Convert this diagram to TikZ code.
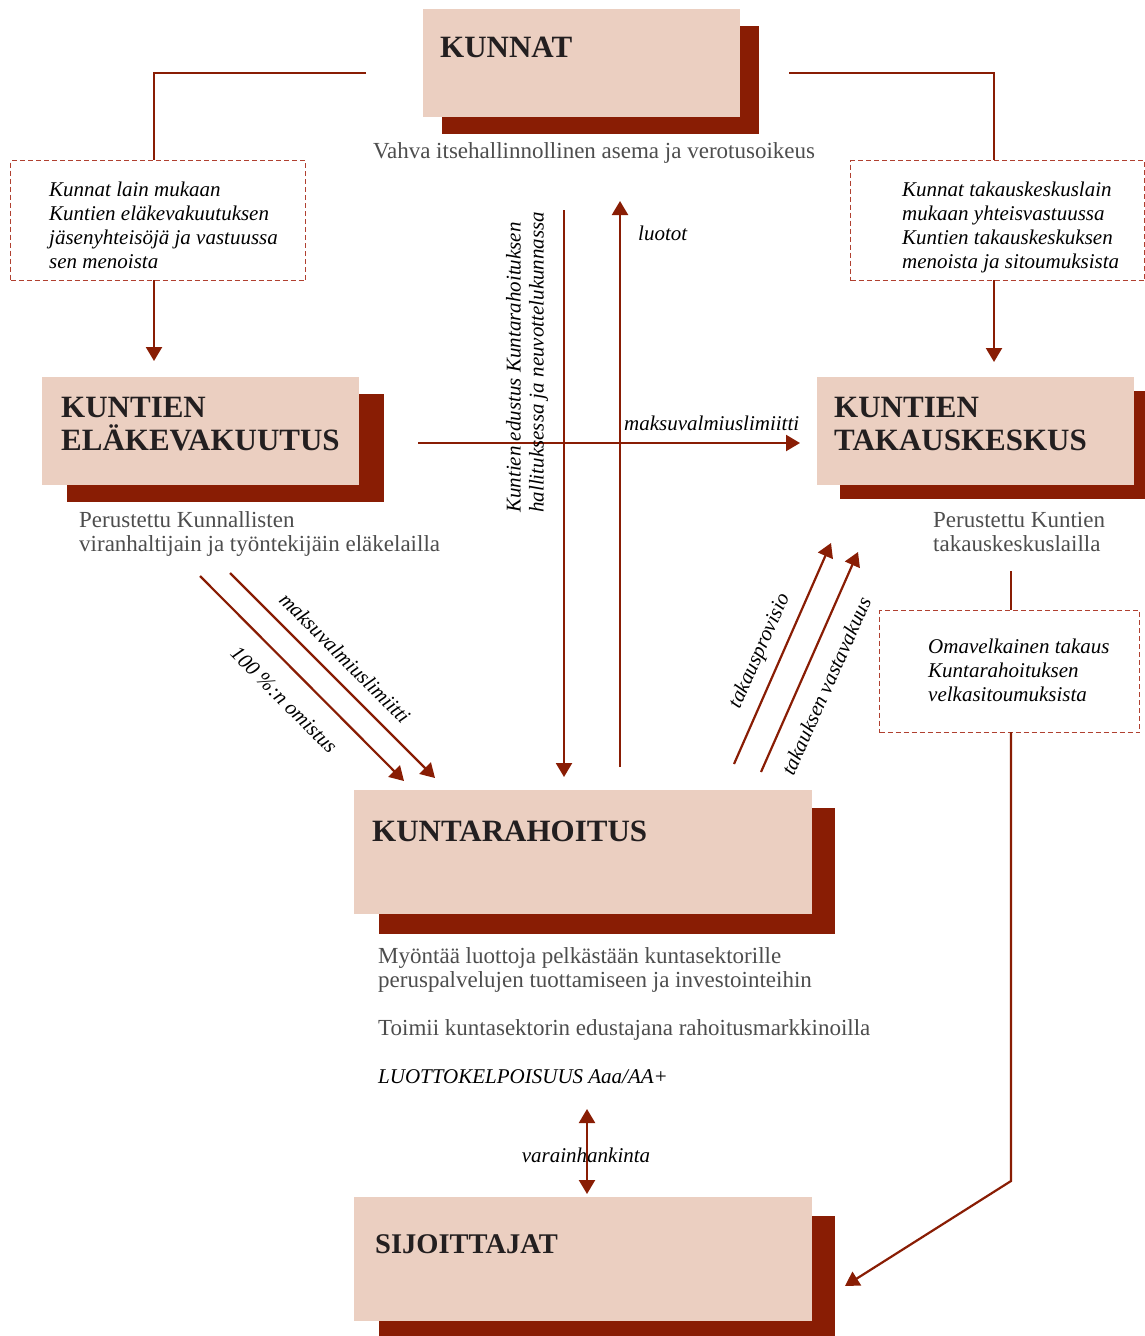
\documentclass[tikz,border=0pt]{standalone}
\usepackage{fontspec}
\setmainfont{Liberation Serif}
\usetikzlibrary{arrows.meta}
\definecolor{boxfill}{RGB}{235,207,193}
\definecolor{shade}{RGB}{137,29,4}
\definecolor{dashc}{RGB}{176,64,48}
\definecolor{titlec}{RGB}{35,31,32}
\definecolor{greyc}{RGB}{77,77,77}
\begin{document}
\begin{tikzpicture}[x=1pt,y=-1pt,
  front/.style={fill=boxfill, draw=none, anchor=north west, inner sep=0pt, outer sep=0pt},
  shadowbox/.style={fill=shade, draw=none, anchor=north west, inner sep=0pt, outer sep=0pt},
  title/.style={anchor=base west, inner sep=0pt, text=titlec, font=\fontsize{31}{33}\selectfont\bfseries, align=left},
  sub/.style={anchor=base west, inner sep=0pt, text=greyc, font=\fontsize{23}{24}\selectfont, align=left},
  note/.style={anchor=base west, inner sep=0pt, text=black, font=\fontsize{21}{24}\selectfont\itshape, align=left},
  lbl/.style={inner sep=0pt, text=black, font=\fontsize{21}{23}\selectfont\itshape},
  dashbox/.style={draw=dashc, line width=1.3pt, dash pattern=on 5pt off 3pt, anchor=north west, inner sep=0pt},
  conn/.style={draw=shade, line width=2.2pt},
  arr/.style={conn, -{Triangle[width=16pt,length=14pt]}},
]
\useasboundingbox (0,0) rectangle (1145,1336);

% ---------- boxes ----------
\node[shadowbox, minimum width=317pt, minimum height=108pt] (kunnatS) at (442,26) {};
\node[front, minimum width=317pt, minimum height=108pt] (kunnat) at (423,9) {};
\node[title] (kunnatT) at (440,57) {KUNNAT};
\node[sub, anchor=base] (kunnatSub) at (594,158) {Vahva itsehallinnollinen asema ja verotusoikeus};

\node[shadowbox, minimum width=317pt, minimum height=108pt] (elakeS) at (67,394) {};
\node[front, minimum width=317pt, minimum height=108pt] (elake) at (42,377) {};
\node[title] (elakeT) at (61,450) {KUNTIEN\\ELÄKEVAKUUTUS};
\node[sub] (elakeSub) at (79,551) {Perustettu Kunnallisten\\viranhaltijain ja työntekijäin eläkelailla};

\node[shadowbox, minimum width=305pt, minimum height=108pt] (takausS) at (840,391) {};
\node[front, minimum width=317pt, minimum height=108pt] (takaus) at (817,377) {};
\node[title] (takausT) at (834,450) {KUNTIEN\\TAKAUSKESKUS};
\node[sub] (takausSub) at (933,551) {Perustettu Kuntien\\takauskeskuslailla};

\node[shadowbox, minimum width=456pt, minimum height=126pt] (krS) at (379,808) {};
\node[front, minimum width=458pt, minimum height=124pt] (kr) at (354,790) {};
\node[title] (krT) at (372,841) {KUNTARAHOITUS};
\node[sub] (krSub1) at (378,987) {Myöntää luottoja pelkästään kuntasektorille\\peruspalvelujen tuottamiseen ja investointeihin};
\node[sub] (krSub2) at (378,1035) {Toimii kuntasektorin edustajana rahoitusmarkkinoilla};
\node[note] (krSub3) at (378,1083) {LUOTTOKELPOISUUS Aaa/AA+};

\node[shadowbox, minimum width=456pt, minimum height=120pt] (sijS) at (379,1216) {};
\node[front, minimum width=458pt, minimum height=124pt] (sij) at (354,1197) {};
\node[title, font=\fontsize{28.5}{33}\selectfont\bfseries] (sijT) at (375,1253) {SIJOITTAJAT};

% ---------- dashed notes ----------
\node[dashbox, minimum width=295pt, minimum height=120pt] (dl) at (10,160) {};
\node[note] (dlT) at (49,268) {Kunnat lain mukaan\\Kuntien eläkevakuutuksen\\jäsenyhteisöjä ja vastuussa\\sen menoista};

\node[dashbox, minimum width=294pt, minimum height=120pt] (dr) at (850,160) {};
\node[note] (drT) at (902,268) {Kunnat takauskeskuslain\\mukaan yhteisvastuussa\\Kuntien takauskeskuksen\\menoista ja sitoumuksista};

\node[dashbox, minimum width=260pt, minimum height=122pt] (dm) at (879,610) {};
\node[note] (dmT) at (928,701) {Omavelkainen takaus\\Kuntarahoituksen\\velkasitoumuksista};

% ---------- connector points ----------
\coordinate (kL) at (366,73);
\coordinate (kLc) at (154,73);
\coordinate (dlTop) at (154,160);
\coordinate (dlBot) at (154,280);
\coordinate (elTop) at (154,361);
\coordinate (kR) at (789,73);
\coordinate (kRc) at (994,73);
\coordinate (drTop) at (994,160);
\coordinate (drBot) at (994,280);
\coordinate (tkTop) at (994,362);
\coordinate (hA) at (418,443);
\coordinate (hB) at (800,443);
\coordinate (v1A) at (564,210);
\coordinate (v1B) at (564,777);
\coordinate (v2A) at (620,767);
\coordinate (v2B) at (620,201);
\coordinate (d1A) at (200,576);
\coordinate (d1B) at (404,781);
\coordinate (d2A) at (230,573);
\coordinate (d2B) at (435,778);
\coordinate (d3A) at (734,764);
\coordinate (d3B) at (831,543);
\coordinate (d4A) at (761,772);
\coordinate (d4B) at (858,552);
\coordinate (mTop) at (1011,571);
\coordinate (dmTop) at (1011,610);
\coordinate (dmBot) at (1011,732);
\coordinate (bend) at (1011,1181);
\coordinate (sijR) at (845,1286);
\coordinate (vhA) at (587,1109);
\coordinate (vhB) at (587,1194);

% ---------- connectors ----------
\draw[conn] (kL) -- (kLc) -- (dlTop);
\draw[arr] (dlBot) -- (elTop);
\draw[conn] (kR) -- (kRc) -- (drTop);
\draw[arr] (drBot) -- (tkTop);
\draw[arr] (v1A) -- (v1B);
\draw[arr] (v2A) -- (v2B);
\draw[arr] (hA) -- (hB);
\draw[arr] (d1A) -- (d1B);
\draw[arr] (d2A) -- (d2B);
\draw[arr] (d3A) -- (d3B);
\draw[arr] (d4A) -- (d4B);
\draw[conn] (mTop) -- (dmTop);
\draw[arr] (dmBot) -- (bend) -- (sijR);
\draw[conn, {Triangle[width=16pt,length=14pt]}-{Triangle[width=16pt,length=14pt]}] (vhA) -- (vhB);

% ---------- labels ----------
\node[lbl, anchor=base west] (lLuotot) at (638,240) {luotot};
\node[lbl, anchor=base west] (lMaks) at (624,430) {maksuvalmiuslimiitti};
\node[lbl, rotate=90, anchor=west, align=left] (lEdustus) at (527,513) {Kuntien edustus Kuntarahoituksen\\hallituksessa ja neuvottelukunnassa};
\node[lbl, rotate=-45] (lOmistus) at (284,700) {100 \%:n omistus};
\node[lbl, rotate=-45] (lMaks2) at (345,658) {maksuvalmiuslimiitti};
\node[lbl, rotate=66] (lProv) at (760,651) {takausprovisio};
\node[lbl, rotate=66] (lVasta) at (826,686) {takauksen vastavakuus};
\node[lbl, anchor=base] (lVara) at (586,1162) {varainhankinta};
\end{tikzpicture}
\end{document}
